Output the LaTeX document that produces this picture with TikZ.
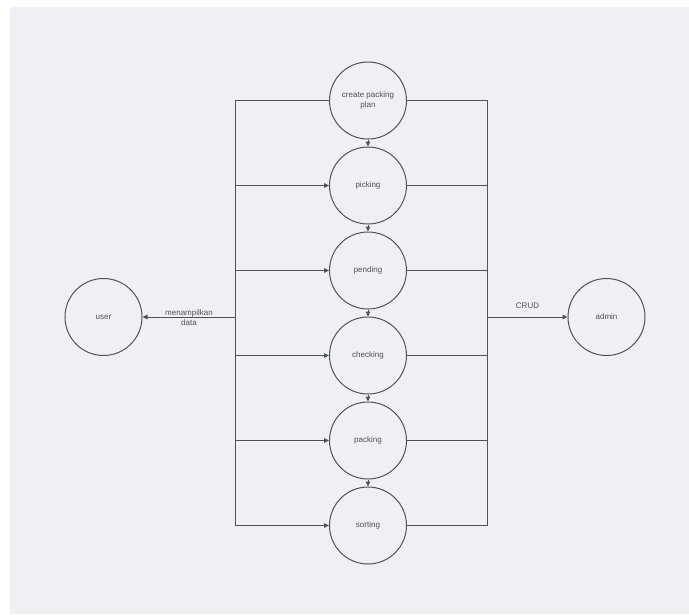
\documentclass[tikz,border=0pt]{standalone}
\usepackage{fontspec}
\setmainfont{Liberation Sans}
\usetikzlibrary{positioning,arrows.meta}

\definecolor{canvas}{RGB}{240,240,244}
\definecolor{ink}{RGB}{74,84,90}
\definecolor{label}{RGB}{80,80,84}

\begin{document}
\begin{tikzpicture}[x=1pt, y=-1pt,
    node distance=7pt,
    proc/.style={circle, draw=ink, line width=1pt, minimum size=77pt, inner sep=0pt,
      text=label, align=center, font=\fontsize{8}{10.3}\selectfont},
    line/.style={draw=ink, line width=1pt},
    arrow/.style={line, -{Triangle[length=5pt,width=4.5pt]}},
    note/.style={text=label, align=center, font=\fontsize{8}{10}\selectfont}]
  \fill[white] (0,0) rectangle (689,614);
  \fill[canvas] (10,7) rectangle (689,614);
  \useasboundingbox (0,0) rectangle (689,614);

  \node[proc] (plan) at (368,100.5) {create packing\\plan};
  \node[proc, below=of plan] (pick) {picking};
  \node[proc, below=of pick] (pend) {pending};
  \node[proc, below=of pend] (check) {checking};
  \node[proc, below=of check] (pack) {packing};
  \node[proc, below=of pack] (sort) {sorting};

  \node[proc] (user) at (103.5,317) {user};
  \node[proc] (admin) at (606.5,317) {admin};

  \coordinate (lbus) at (235.5,317);
  \coordinate (rbus) at (487.5,317);

  % flow between the stages
  \draw[arrow] (plan) -- (pick);
  \draw[arrow] (pick) -- (pend);
  \draw[arrow] (pend) -- (check);
  \draw[arrow] (check) -- (pack);
  \draw[arrow] (pack) -- (sort);

  % left bus
  \draw[line] (plan.west) -- (plan.west -| lbus) -- (sort.west -| lbus);
  \foreach \n in {pick,pend,check,pack,sort}
    \draw[arrow] (\n.west -| lbus) -- (\n.west);
  \draw[arrow] (lbus) -- node[note, yshift=-0.5pt] {menampilkan\\data} (user);

  % right bus
  \draw[line] (plan.east) -- (plan.east -| rbus) -- (sort.east -| rbus);
  \foreach \n in {pick,pend,check,pack,sort}
    \draw[line] (\n.east) -- (\n.east -| rbus);
  \draw[arrow] (rbus) -- node[note, above=5pt] {CRUD} (admin);
\end{tikzpicture}
\end{document}
